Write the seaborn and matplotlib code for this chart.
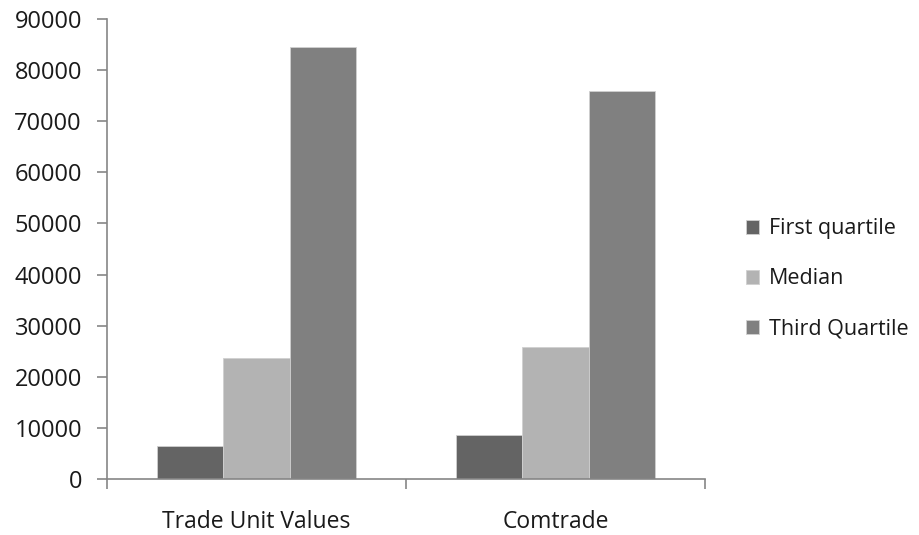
import pandas as pd
import seaborn as sns
import matplotlib.pyplot as plt
from matplotlib.ticker import FixedLocator

sources = ['Trade Unit Values', 'Comtrade']
stats = ['First quartile', 'Median', 'Third Quartile']
first_quartile = [6400, 8600]
median = [23700, 25800]
third_quartile = [84500, 75900]
colors = ['#646464', '#b3b3b3', '#808080']

df = pd.DataFrame({
    'source': sources * 3,
    'stat': [s for s in stats for _ in sources],
    'value': first_quartile + median + third_quartile,
})

sns.set_style('white')
plt.rcParams['font.family'] = ['Open Sans', 'DejaVu Sans']

fig = plt.figure(figsize=(9.2, 5.35), dpi=100)
ax = fig.add_axes([0.1163, 0.1047, 0.6500, 0.8598])

sns.barplot(data=df, x='source', y='value', hue='stat', palette=colors,
            width=0.665, gap=0, edgecolor='#d0d0d0', linewidth=0.6, ax=ax)

ax.set_ylim(0, 90000)
ax.set_xlim(-0.5, 1.5)
ax.set_yticks(range(0, 90001, 10000))
ax.set_xlabel('')
ax.set_ylabel('')

axis_grey = '#868686'
text_col = '#1a1a1a'
for side in ['top', 'right']:
    ax.spines[side].set_visible(False)
for side in ['left', 'bottom']:
    ax.spines[side].set_color(axis_grey)
    ax.spines[side].set_linewidth(1.2)

ax.tick_params(axis='y', direction='out', length=7, width=1.2, color=axis_grey,
               labelsize=17, labelcolor=text_col, pad=11, left=True)
ax.tick_params(axis='x', which='major', length=0, labelsize=16.5,
               labelcolor=text_col, pad=22)
ax.xaxis.set_minor_locator(FixedLocator([-0.5, 0.5, 1.5]))
ax.tick_params(axis='x', which='minor', direction='out', length=7, width=1.2,
               color=axis_grey, bottom=True)

handles, labels = ax.get_legend_handles_labels()
ax.legend(handles, labels, loc='center left', bbox_to_anchor=(1.037, 0.435),
          frameon=False, fontsize=15.5, handlelength=0.6, handleheight=0.6,
          handletextpad=0.45, labelspacing=1.35, labelcolor=text_col)

fig.savefig('out.png', dpi=100)
